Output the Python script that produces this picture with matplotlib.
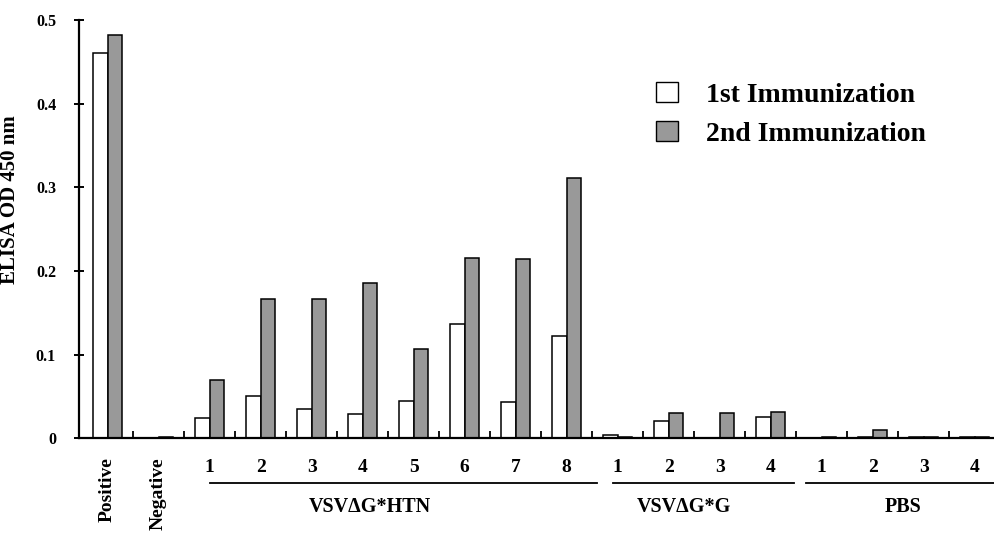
import matplotlib
matplotlib.use("Agg")
import matplotlib.pyplot as plt
from matplotlib.patches import Patch

# groups along the x axis
group_labels = ["Positive", "Negative",
                "1", "2", "3", "4", "5", "6", "7", "8",
                "1", "2", "3", "4",
                "1", "2", "3", "4"]
first_imm = [0.461, 0.0,
             0.024, 0.050, 0.035, 0.029, 0.045, 0.137, 0.043, 0.122,
             0.004, 0.020, 0.0, 0.025,
             0.0, 0.001, 0.001, 0.001]
second_imm = [0.482, 0.001,
              0.069, 0.166, 0.167, 0.185, 0.107, 0.216, 0.214, 0.311,
              0.001, 0.030, 0.030, 0.031,
              0.001, 0.010, 0.001, 0.001]

# bracket groups under the numbered bars: (label, line start, line end, label x)
brackets = [("VSV\u0394G*HTN", 2.0, 9.6, 5.15),
            ("VSV\u0394G*G", 9.9, 13.45, 11.3),
            ("PBS", 13.7, 17.7, 15.6)]

yticks = [0, 0.1, 0.2, 0.3, 0.4, 0.5]
ytick_labels = ["0", "0.1", "0.2", "0.3", "0.4", "0.5"]

plt.rcParams["font.family"] = ["Liberation Serif", "DejaVu Serif"]
plt.rcParams["font.weight"] = "bold"

fig = plt.figure(figsize=(9.94, 5.35), dpi=100)
ax = fig.add_axes([0.0795, 0.181, 0.9205, 0.7816])

x = list(range(len(group_labels)))
w = 0.29
gray = "#999999"
ax.bar([i - w / 2 for i in x], first_imm, width=w, color="white",
       edgecolor="black", linewidth=1.1)
ax.bar([i + w / 2 for i in x], second_imm, width=w, color=gray,
       edgecolor="black", linewidth=1.1)

ax.set_xlim(-0.56, 17.38)
ax.set_ylim(0, 0.5)

for side in ["top", "right"]:
    ax.spines[side].set_visible(False)
ax.spines["left"].set_linewidth(1.6)
ax.spines["bottom"].set_linewidth(1.6)

ax.set_yticks(yticks)
ax.set_yticklabels(ytick_labels, fontsize=11.5, fontweight="bold")
ax.tick_params(axis="y", direction="inout", length=7, width=1.4, pad=13)

# small ticks at group boundaries, no labels
ax.set_xticks([i + 0.5 for i in x[:-1]])
ax.set_xticklabels([])
ax.tick_params(axis="x", direction="in", length=5, width=1.3)

ax.set_ylabel("ELISA OD 450 nm", fontsize=15, fontweight="bold")
ax.yaxis.set_label_coords(-0.064, 0.57)

trans = ax.get_xaxis_transform()
for i, lab in enumerate(group_labels):
    if i < 2:
        ax.text(i, -0.045, lab, transform=trans, rotation=90, ha="center",
                va="top", fontsize=14, fontweight="bold")
    else:
        ax.text(i, -0.07, lab, transform=trans, ha="center", va="center",
                fontsize=14, fontweight="bold")

for lab, x0, x1, xc in brackets:
    ax.plot([x0, x1], [-0.108, -0.108], transform=trans, color="black",
            linewidth=1.3, clip_on=False)
    ax.text(xc, -0.165, lab, transform=trans, ha="center", va="center",
            fontsize=14.5, fontweight="bold")

handles = [Patch(facecolor="white", edgecolor="black", linewidth=1.0),
           Patch(facecolor=gray, edgecolor="black", linewidth=1.0)]
fig.legend(handles, ["1st Immunization", "2nd Immunization"],
           loc="upper left", bbox_to_anchor=(642 / 994, 1 - 68 / 535),
           frameon=False, handlelength=0.8, handleheight=0.75,
           handletextpad=1.0, labelspacing=0.47, borderpad=0,
           prop={"weight": "bold", "size": 20})

fig.savefig("out.png", dpi=100)
